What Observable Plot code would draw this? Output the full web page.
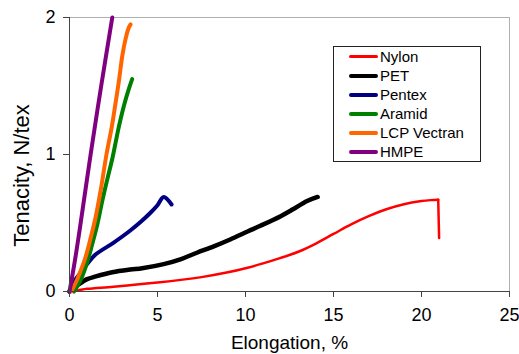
<!DOCTYPE html>
<html>
<head>
<meta charset="utf-8">
<script src="https://cdn.jsdelivr.net/npm/d3@7"></script>
<script src="https://cdn.jsdelivr.net/npm/@observablehq/plot@0.6"></script>
<style>
  html, body { margin: 0; padding: 0; background: #fff; }
  #wrap { position: relative; width: 519px; height: 354px; font-family: "Liberation Sans", Arial, sans-serif; }
  #legend { position: absolute; left: 333px; top: 46px; width: 146px; border: 1px solid #222; background: #fff; }
  .row { height: 19px; display: flex; align-items: center; font-size: 15px; color: #000; }
  .sw { margin-left: 15px; width: 29px; margin-right: 2px; border-radius: 2px; }
</style>
</head>
<body>
<div id="wrap"><div id="legend"></div></div>
<script>
const seriesNames = ["Nylon", "PET", "Pentex", "Aramid", "LCP Vectran", "HMPE"];
const seriesColors = ["#ff0000", "#000000", "#000080", "#008000", "#ff6600", "#800080"];
const seriesWidths = [2.5, 4.5, 4, 4, 4, 4];

// Nylon: loading curve, then the break (drop) at the end
const nylonX = [0, 0.5, 1, 2.5, 5, 7.5, 9, 10, 11, 12, 13, 14, 15, 16, 17, 18, 19, 20, 20.5, 20.95, 21.0];
const nylonY = [0, 0.01, 0.02, 0.035, 0.065, 0.105, 0.14, 0.17, 0.205, 0.245, 0.29, 0.35, 0.42, 0.49, 0.55, 0.6, 0.637, 0.66, 0.667, 0.67, 0.39];

const petX = [0, 0.5, 1.0, 1.5, 2.43, 3.45, 4.13, 5.35, 6.3, 7.24, 8.2, 9.13, 10.15, 10.85, 12, 12.7, 13.5, 14.1];
const petY = [0, 0.05, 0.09, 0.11, 0.14, 0.16, 0.17, 0.2, 0.235, 0.283, 0.33, 0.38, 0.44, 0.48, 0.55, 0.6, 0.66, 0.69];

const pentexX = [0, 0.3, 0.72, 1.0, 1.48, 2.43, 3.4, 4.1, 4.6, 5.0, 5.35, 5.8];
const pentexY = [0, 0.08, 0.15, 0.2, 0.27, 0.35, 0.44, 0.515, 0.575, 0.63, 0.69, 0.635];

const aramidX = [0.25, 0.45, 0.72, 1.0, 1.3, 1.6, 1.86, 2.15, 2.45, 2.8, 3.1, 3.35, 3.56];
const aramidY = [0, 0.04, 0.11, 0.21, 0.35, 0.5, 0.66, 0.82, 0.98, 1.2, 1.36, 1.47, 1.55];

const vectranX = [0.1, 0.34, 0.6, 0.91, 1.2, 1.48, 1.8, 2.1, 2.4, 2.61, 2.8, 3.0, 3.18, 3.35, 3.47];
const vectranY = [0, 0.06, 0.14, 0.25, 0.39, 0.54, 0.76, 1.0, 1.2, 1.37, 1.53, 1.72, 1.84, 1.92, 1.95];

const hmpeX = [0, 0.3, 0.6, 1.2, 1.8, 2.43];
const hmpeY = [0, 0.22, 0.47, 1.0, 1.5, 2.0];

const xTicks = [0, 5, 10, 15, 20, 25];
const yTicks = [0, 1, 2];
const xTitle = "Elongation, %";
const yTitle = "Tenacity, N/tex";

const allX = [nylonX, petX, pentexX, aramidX, vectranX, hmpeX];
const allY = [nylonY, petY, pentexY, aramidY, vectranY, hmpeY];
const rows = [];
seriesNames.forEach((name, i) => {
  allX[i].forEach((x, j) => rows.push({series: name, x, y: allY[i][j], last: j === allX[i].length - 1}));
});

const lineMarks = [];
seriesNames.forEach((name, i) => {
  const pts = rows.filter(d => d.series === name);
  const style = { x: "x", y: "y", stroke: seriesColors[i], strokeWidth: seriesWidths[i], strokeLinecap: "round", strokeLinejoin: "round" };
  if (name === "Nylon") {
    // smooth loading part, straight break segment
    lineMarks.push(Plot.line(pts.filter(d => !d.last), { ...style, curve: "catmull-rom" }));
    lineMarks.push(Plot.line(pts.slice(-2), { ...style, curve: "linear" }));
  } else {
    lineMarks.push(Plot.line(pts, { ...style, curve: "catmull-rom" }));
  }
});

const chart = Plot.plot({
  width: 519,
  height: 354,
  marginLeft: 69,
  marginRight: 10,
  marginTop: 17,
  marginBottom: 63,
  style: { fontFamily: "'Liberation Sans', Arial, sans-serif", background: "#fff", color: "#000" },
  x: { domain: [0, 25] },
  y: { domain: [0, 2] },
  marks: [
    Plot.ruleY([2], { stroke: "#b0b0b0", strokeWidth: 1 }),
    Plot.ruleX([25], { stroke: "#b0b0b0", strokeWidth: 1 }),
    ...lineMarks,
    Plot.ruleX([0], { stroke: "#444", strokeWidth: 1 }),
    Plot.ruleY([0], { stroke: "#444", strokeWidth: 1 }),
    Plot.axisX({ ticks: xTicks, tickSize: 6, tickPadding: 11, fontSize: 18, stroke: "#444", label: null }),
    Plot.axisY({ ticks: yTicks, tickSize: 6, tickPadding: 8, fontSize: 18, stroke: "#444", label: null, tickFormat: d3.format("d") }),
    Plot.text([xTitle], { frameAnchor: "bottom", text: d => d, dy: 57, lineAnchor: "bottom", textAnchor: "middle", fontSize: 19, fill: "#000" }),
    Plot.text([yTitle], { frameAnchor: "left", text: d => d, rotate: -90, dx: -48, dy: 21, lineAnchor: "middle", textAnchor: "middle", fontSize: 22, fill: "#000" })
  ]
});
document.getElementById("wrap").insertBefore(chart, document.getElementById("legend"));

const legend = document.getElementById("legend");
seriesNames.forEach((name, i) => {
  const row = document.createElement("div");
  row.className = "row";
  const sw = document.createElement("span");
  sw.className = "sw";
  sw.style.height = (i === 0 ? 2.5 : 4) + "px";
  sw.style.background = seriesColors[i];
  const t = document.createElement("span");
  t.textContent = name;
  row.appendChild(sw);
  row.appendChild(t);
  legend.appendChild(row);
});
</script>
</body>
</html>
